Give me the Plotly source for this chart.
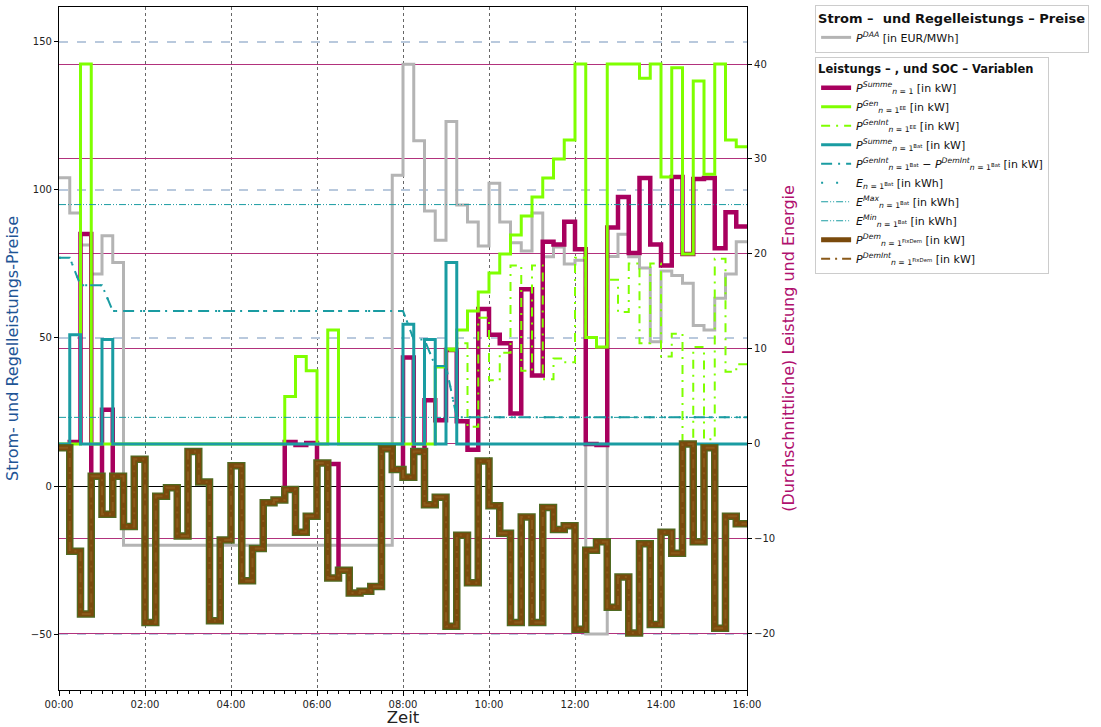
import pandas as pd
import plotly.graph_objects as go

# 15-minute intervals from 00:00 to 16:00
times = pd.date_range("2024-01-01 00:00", periods=65, freq="15min")

# Day-ahead price [EUR/MWh]
p_daa = [104.1, 92.2, 81.4, 71.6, 84.5, 75.5, -20, -20,
         -20, -20, -20, -20, -20, -20, -20, -20,
         -20, -20, -20, -20, -20, -20, -20, -20,
         -20, -20, -20, -20, -20, -20, -20, 105.0,
         142.5, 116.6, 92.9, 83.0, 123.1, 94.9, 89.2, 81.1,
         102.3, 89.2, 82.2, 79.4, 92.2, 77.4, 80.7, 75.0,
         76.3, -50, -50, 77.5, 85.0, 77.4, 73.6, 48.7,
         72.6, 71.1, 68.5, 54.2, 52.7, 63.4, 71.6, 82.5]

# Total power of node n=1 [kW]
p_summe = [-0.4, 0.2, 22.1, -3.4, 3.6, -3.4, -8.7, -1.6,
           -18.8, -5.5, -4.6, -9.7, -0.8, -4.0, -18.6, -10.1,
           -2.3, -14.4, -11.0, -6.2, -5.9, 0.2, -0.1, 0.1,
           -2.0, -2.1, -13.3, -15.7, -15.5, -15.0, -0.5, -2.7,
           9.1, -0.8, 4.6, 2.5, 9.9, 2.4, -0.6, 14.2,
           11.5, 10.6, 3.2, 16.3, 7.2, 21.3, 21.0, 23.4,
           20.5, 0.0, -0.1, 22.8, 26.0, 20.1, 28.0, 21.0,
           18.8, 28.1, 20.0, 27.9, 28.0, 20.6, 24.4, 22.9]

# Renewable generation [kW]
p_gen_ee = [0, 0, 40, 0, 0, 0, 0, 0,
            0, 0, 0, 0, 0, 0, 0, 0,
            0, 0, 0, 0, 0, 5.0, 9.2, 7.7,
            0, 12.0, 0, 0, 0, 0, 0, 0,
            0, 0, 0, 8.1, 10.0, 12.0, 14.0, 16.0,
            18.0, 20.0, 22.0, 24.0, 26.0, 28.0, 30.0, 32.0,
            40.0, 11.2, 10.2, 40.0, 40.0, 40.0, 38.5, 40.0,
            28.1, 39.6, 20.0, 38.2, 28.4, 40.0, 32.0, 31.3]

# Intraday renewable generation [kW]
p_genint_ee = [0, 0, 0, 0, 0, 0, 0, 0,
               0, 0, 0, 0, 0, 0, 0, 0,
               0, 0, 0, 0, 0, 0, 0, 0,
               0, 0, 0, 0, 0, 0, 0, 0,
               0, 0, 0, 8.1, 9.8, 10.6, 1.8, 13.3,
               6.7, 9.6, 18.8, 7.7, 18.8, 6.8, 9.0, 8.6,
               19.6, 11.2, 10.2, 17.3, 13.9, 19.0, 10.6, 19.0,
               9.2, 11.6, 0.2, 10.2, 0.5, 19.5, 7.6, 8.4]

# Battery power [kW]
p_bat = [0, 11.5, 0, 0, 11.0, 0, 0, 0,
         0, 0, 0, 0, 0, 0, 0, 0,
         0, 0, 0, 0, 0, 0, 0, 0,
         0, 0, 0, 0, 0, 0, 0, 0,
         12.6, 0, 11.0, 0, 19.1, 0, 0, 0,
         0, 0, 0, 0, 0, 0, 0, 0,
         0, 0, 0, 0, 0, 0, 0, 0,
         0, 0, 0, 0, 0, 0, 0, 0]

# Battery state of charge at interval boundaries [kWh]
e_bat = [19.6, 19.6, 16.7, 16.7, 16.7, 14.0, 14.0, 14.0,
         14.0, 14.0, 14.0, 14.0, 14.0, 14.0, 14.0, 14.0,
         14.0, 14.0, 14.0, 14.0, 14.0, 14.0, 14.0, 14.0,
         14.0, 14.0, 14.0, 14.0, 14.0, 14.0, 14.0, 14.0,
         14.0, 11.0, 11.0, 8.2, 8.2, 2.8, 2.8, 2.8,
         2.8, 2.8, 2.8, 2.8, 2.8, 2.8, 2.8, 2.8,
         2.8, 2.8, 2.8, 2.8, 2.8, 2.8, 2.8, 2.8,
         2.8, 2.8, 2.8, 2.8, 2.8, 2.8, 2.8, 2.8, 2.8]
e_bat_max = 25.2
e_bat_min = 2.8

# Fixed demand [kW]
p_dem = [-0.4, -11.3, -17.9, -3.4, -7.4, -3.4, -8.7, -1.6,
         -18.8, -5.5, -4.6, -9.7, -0.8, -4.0, -18.6, -10.1,
         -2.3, -14.4, -11.0, -6.2, -5.9, -4.8, -9.3, -7.6,
         -2.0, -14.1, -13.3, -15.7, -15.5, -15.0, -0.5, -2.7,
         -3.5, -0.8, -6.4, -5.6, -19.2, -9.6, -14.6, -1.8,
         -6.5, -9.4, -18.8, -7.7, -18.8, -6.7, -9.0, -8.6,
         -19.5, -11.2, -10.3, -17.2, -14.0, -19.9, -10.5, -19.0,
         -9.3, -11.5, 0.0, -10.3, -0.4, -19.4, -7.6, -8.4]
p_demint = list(p_dem)

# Tick positions
price_ticks = [-50, 0, 50, 100, 150]
power_ticks = [-20, -10, 0, 10, 20, 30, 40]

GREY = "#b4b4b4"
LIME = "#7fff00"
TEAL = "#1a9ca2"
MAGENTA = "#a8005e"
BROWN = "#7a4a0c"
OLIVE = "#4f6a22"
FONT = "DejaVu Sans"


def stepped(values):
    """Repeat the last value so the final interval is drawn to 16:00."""
    return list(values) + [values[-1]]


fig = go.Figure()

# Price (left axis)
fig.add_trace(go.Scatter(
    x=times, y=stepped(p_daa), mode="lines", line=dict(color=GREY, width=3, shape="hv"),
    name="<i>P</i><sup><i>DAA</i></sup> [in EUR/MWh]", legend="legend", yaxis="y"))

# Powers and energies (right axis)
fig.add_trace(go.Scatter(
    x=times, y=stepped(p_summe), mode="lines", line=dict(color=MAGENTA, width=4.5, shape="hv"),
    name="<i>P</i><sup><i>Summe</i></sup><sub><i>n</i> = 1</sub> [in kW]", legend="legend2", yaxis="y2"))
fig.add_trace(go.Scatter(
    x=times, y=stepped(p_gen_ee), mode="lines", line=dict(color=LIME, width=3, shape="hv"),
    name="<i>P</i><sup><i>Gen</i></sup><sub><i>n</i> = 1<sup>EE</sup></sub> [in kW]", legend="legend2", yaxis="y2"))
fig.add_trace(go.Scatter(
    x=times, y=stepped(p_genint_ee), mode="lines",
    line=dict(color=LIME, width=2, shape="hv", dash="9px,6px,2px,6px"),
    name="<i>P</i><sup><i>GenInt</i></sup><sub><i>n</i> = 1<sup>EE</sup></sub> [in kW]", legend="legend2", yaxis="y2"))
fig.add_trace(go.Scatter(
    x=times, y=stepped(p_bat), mode="lines", line=dict(color=TEAL, width=3, shape="hv"),
    name="<i>P</i><sup><i>Summe</i></sup><sub><i>n</i> = 1<sup>Bat</sup></sub> [in kW]", legend="legend2", yaxis="y2"))
fig.add_trace(go.Scatter(
    x=times, y=e_bat, mode="lines", line=dict(color=TEAL, width=2, dash="11px,6px,2px,6px"),
    name="<i>P</i><sup><i>GenInt</i></sup><sub><i>n</i> = 1<sup>Bat</sup></sub> − <i>P</i><sup><i>DemInt</i></sup><sub><i>n</i> = 1<sup>Bat</sup></sub> [in kW]",
    legend="legend2", yaxis="y2"))
fig.add_trace(go.Scatter(
    x=times, y=e_bat, mode="lines", line=dict(color=TEAL, width=2, dash="2px,13px"),
    name="<i>E</i><sub><i>n</i> = 1<sup>Bat</sup></sub> [in kWh]", legend="legend2", yaxis="y2"))
fig.add_trace(go.Scatter(
    x=[times[0], times[-1]], y=[e_bat_max, e_bat_max], mode="lines",
    line=dict(color=TEAL, width=1, dash="7px,2px,1px,2px,1px,2px"),
    name="<i>E</i><sup><i>Max</i></sup><sub><i>n</i> = 1<sup>Bat</sup></sub> [in kWh]", legend="legend2", yaxis="y2"))
fig.add_trace(go.Scatter(
    x=[times[0], times[-1]], y=[e_bat_min, e_bat_min], mode="lines",
    line=dict(color=TEAL, width=1, dash="7px,2px,1px,2px,1px,2px"),
    name="<i>E</i><sup><i>Min</i></sup><sub><i>n</i> = 1<sup>Bat</sup></sub> [in kWh]", legend="legend2", yaxis="y2"))
# Demand drawn with an olive rim underneath
fig.add_trace(go.Scatter(
    x=times, y=stepped(p_dem), mode="lines", line=dict(color=OLIVE, width=7.5, shape="hv"),
    showlegend=False, hoverinfo="skip", legend="legend2", yaxis="y2"))
fig.add_trace(go.Scatter(
    x=times, y=stepped(p_dem), mode="lines", line=dict(color=BROWN, width=5, shape="hv"),
    name="<i>P</i><sup><i>Dem</i></sup><sub><i>n</i> = 1<sup>FixDem</sup></sub> [in kW]", legend="legend2", yaxis="y2"))
fig.add_trace(go.Scatter(
    x=times, y=stepped(p_demint), mode="lines",
    line=dict(color="#8a5a1a", width=2, shape="hv", dash="9px,5px,2px,5px"),
    name="<i>P</i><sup><i>DemInt</i></sup><sub><i>n</i> = 1<sup>FixDem</sup></sub> [in kW]", legend="legend2", yaxis="y2"))

legend_common = dict(
    font=dict(family=FONT, size=11, color="#111"),
    bgcolor="white", bordercolor="#cccccc", borderwidth=1,
    xanchor="left", yanchor="top", itemwidth=30, tracegroupgap=0,
)

fig.update_layout(
    width=1101, height=727,
    margin=dict(l=59, r=354, t=6, b=37),
    paper_bgcolor="white", plot_bgcolor="white",
    font=dict(family=FONT, size=10, color="#222"),
    showlegend=True,
    legend=dict(
        x=1.099, y=1.0015,
        title=dict(text="<b>Strom –  und Regelleistungs – Preise</b>", font=dict(family=FONT, size=13, color="#111")),
        **legend_common),
    legend2=dict(
        x=1.099, y=0.925,
        title=dict(text="<b>Leistungs – , und SOC – Variablen</b>", font=dict(family=FONT, size=11.5, color="#111")),
        **legend_common),
    xaxis=dict(
        type="date", range=[times[0], times[-1]], automargin=False,
        tick0=times[0], dtick=2 * 3600 * 1000, tickformat="%H:%M",
        ticks="outside", ticklen=5, tickcolor="black",
        minor=dict(dtick=15 * 60 * 1000, ticks="outside", ticklen=3, tickcolor="black", showgrid=False),
        showgrid=True, gridcolor="#666666", griddash="dot", gridwidth=0.8,
        showline=True, linecolor="black", linewidth=1.2, mirror=True,
        tickfont=dict(family=FONT, size=10, color="#222"),
        title=dict(text="Zeit", font=dict(family=FONT, size=16.5, color="#222"), standoff=2),
    ),
    yaxis=dict(
        range=[-68.9, 161.8], tickvals=price_ticks, automargin=False,
        ticks="outside", ticklen=4, tickcolor="black",
        showgrid=True, gridcolor="#b9c9dd", griddash="dash", gridwidth=1.5,
        zeroline=True, zerolinecolor="black", zerolinewidth=1,
        showline=True, linecolor="black", linewidth=1.2,
        tickfont=dict(family=FONT, size=10, color="#222"),
        title=dict(text="Strom- und Regelleistungs-Preise",
                   font=dict(family=FONT, size=16, color="#1f5596"), standoff=8),
    ),
    yaxis2=dict(
        overlaying="y", side="right", automargin=False,
        range=[-25.9, 46.0], tickvals=power_ticks,
        ticks="outside", ticklen=4, tickcolor="black",
        showgrid=True, gridcolor="#b2327c", gridwidth=1, zeroline=False,
        showline=True, linecolor="black", linewidth=1.2,
        tickfont=dict(family=FONT, size=10, color="#222"),
        title=dict(text="(Durchschnittliche) Leistung und Energie",
                   font=dict(family=FONT, size=16, color="#b0106e"), standoff=8),
    ),
)

fig.write_html("out.html")
